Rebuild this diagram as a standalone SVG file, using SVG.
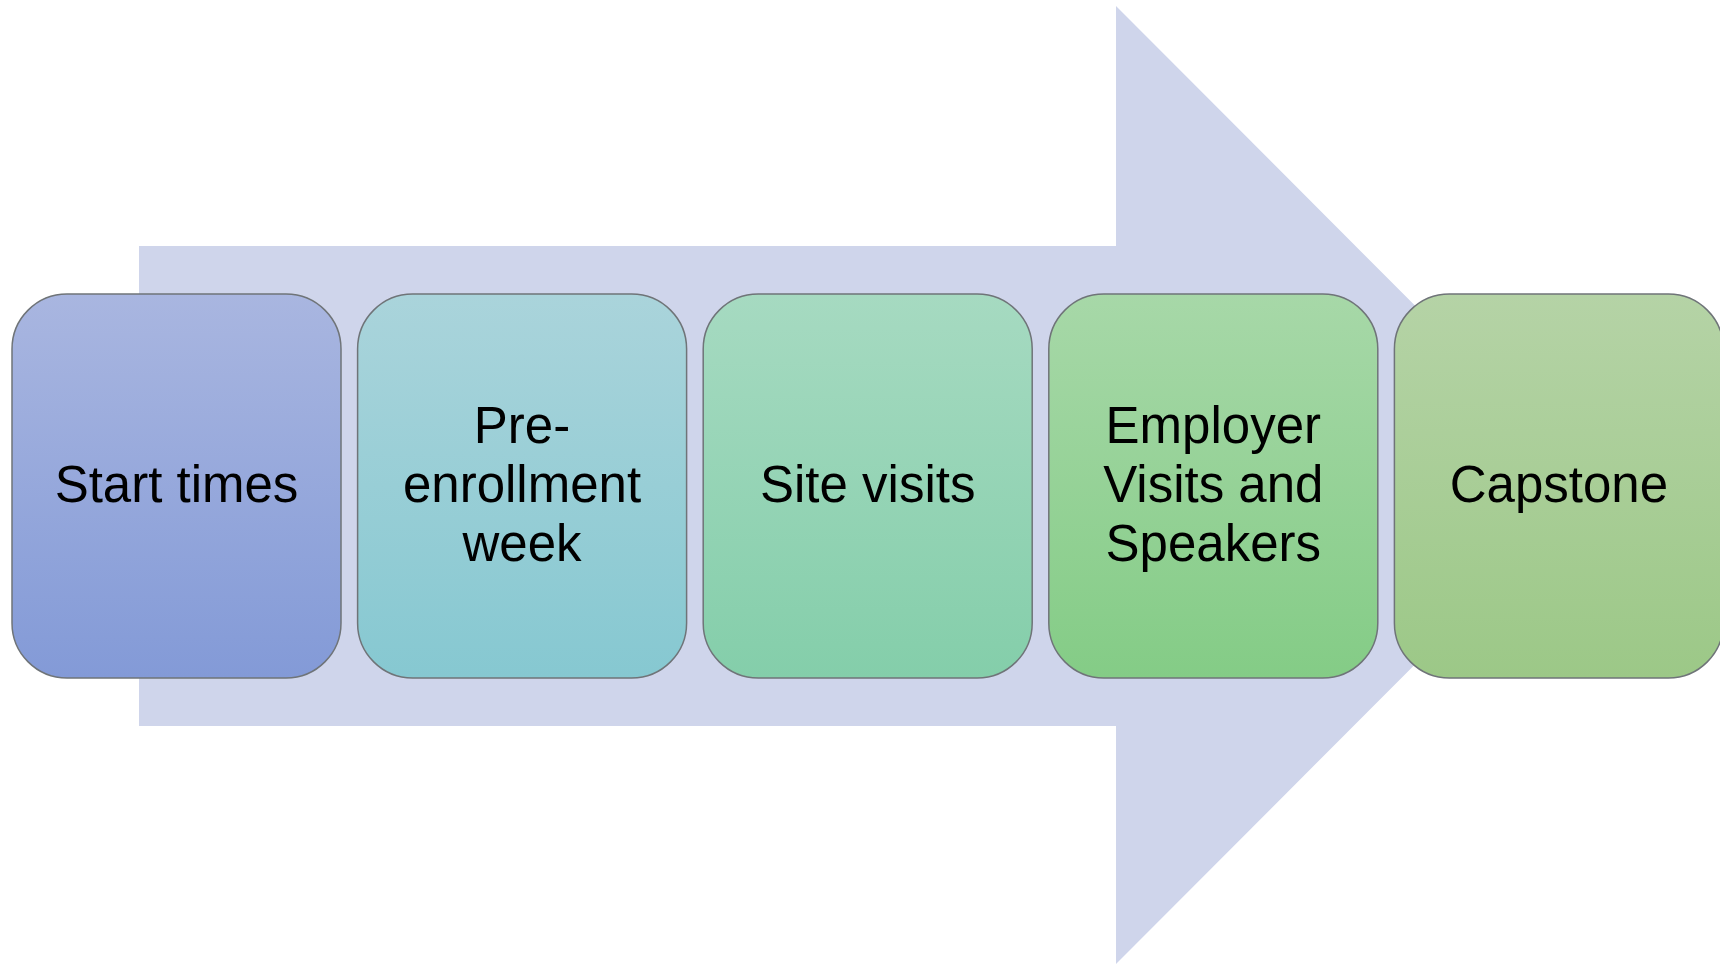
<svg xmlns="http://www.w3.org/2000/svg" width="1720" height="964" viewBox="0 0 1720 964">
<defs>
<linearGradient id="g1" x1="0" y1="0" x2="0" y2="1"><stop offset="0" stop-color="#A9B6E0"/><stop offset="1" stop-color="#839AD7"/></linearGradient>
<linearGradient id="g2" x1="0" y1="0" x2="0" y2="1"><stop offset="0" stop-color="#AAD4DB"/><stop offset="1" stop-color="#86C8D1"/></linearGradient>
<linearGradient id="g3" x1="0" y1="0" x2="0" y2="1"><stop offset="0" stop-color="#A6DAC1"/><stop offset="1" stop-color="#84CEAA"/></linearGradient>
<linearGradient id="g4" x1="0" y1="0" x2="0" y2="1"><stop offset="0" stop-color="#A7D8A8"/><stop offset="1" stop-color="#84CC86"/></linearGradient>
<linearGradient id="g5" x1="0" y1="0" x2="0" y2="1"><stop offset="0" stop-color="#B5D3A6"/><stop offset="1" stop-color="#9CC887"/></linearGradient>
</defs>
<style>
.box{stroke:#6F7478;stroke-width:1.5}
.t{font-family:"Liberation Sans",Arial,sans-serif;font-size:51px;fill:#000;text-anchor:middle}
</style>
<rect width="1720" height="964" fill="#FFFFFF"/>
<g id="connectors">
<polygon points="139,246 1116,246 1116,6 1594,485 1116,964 1116,726 139,726" fill="#CFD5EB"/>
</g>
<g id="node1">
<rect class="box" x="12" y="294" width="329" height="384" rx="55" ry="55" fill="url(#g1)"/>
<text class="t" x="176.5" y="502">Start times</text>
</g>
<g id="node2">
<rect class="box" x="357.6" y="294" width="329" height="384" rx="55" ry="55" fill="url(#g2)"/>
<text class="t" x="522" y="443">Pre-</text>
<text class="t" x="522" y="502">enrollment</text>
<text class="t" x="522" y="561">week</text>
</g>
<g id="node3">
<rect class="box" x="703.2" y="294" width="329" height="384" rx="55" ry="55" fill="url(#g3)"/>
<text class="t" x="867.7" y="502">Site visits</text>
</g>
<g id="node4">
<rect class="box" x="1048.8" y="294" width="329" height="384" rx="55" ry="55" fill="url(#g4)"/>
<text class="t" x="1213.3" y="443">Employer</text>
<text class="t" x="1213.3" y="502">Visits and</text>
<text class="t" x="1213.3" y="561">Speakers</text>
</g>
<g id="node5">
<rect class="box" x="1394.4" y="294" width="329" height="384" rx="55" ry="55" fill="url(#g5)"/>
<text class="t" x="1558.9" y="502">Capstone</text>
</g>
</svg>
